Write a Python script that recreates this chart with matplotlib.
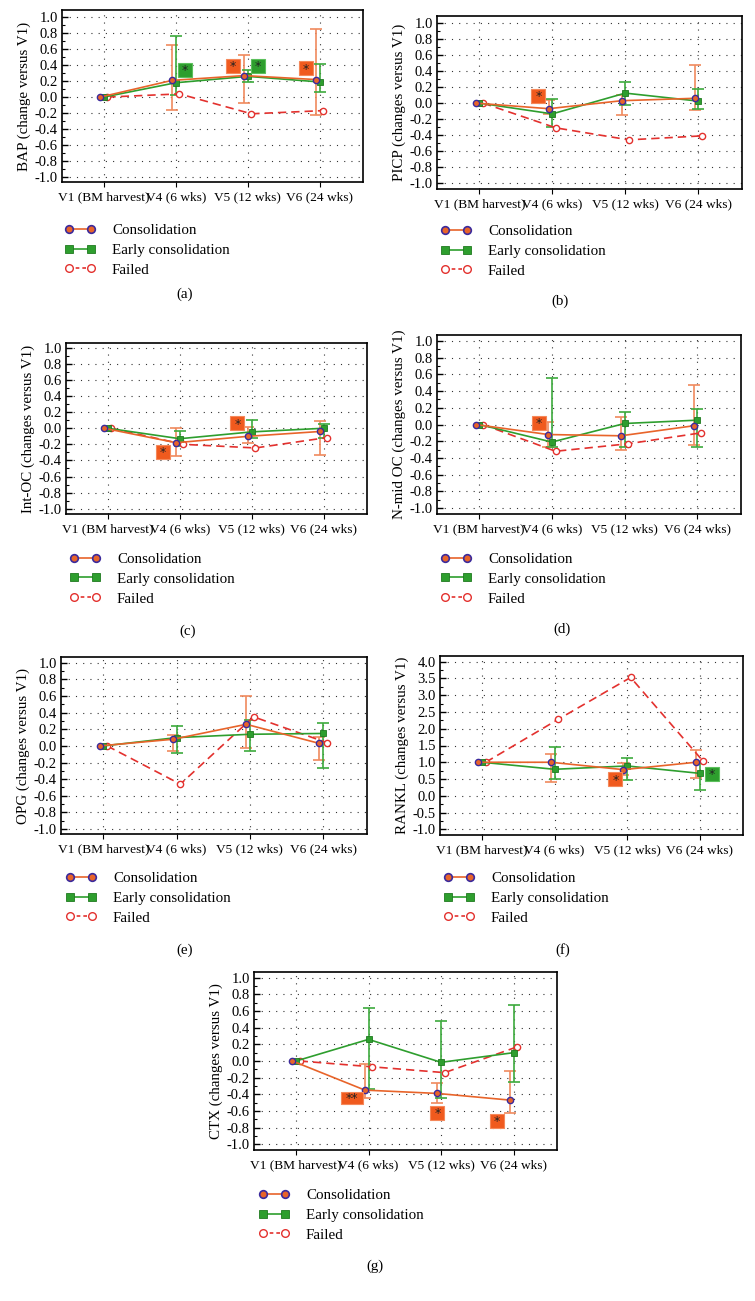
import numpy as np
import matplotlib
matplotlib.use("Agg")
import matplotlib.pyplot as plt
from matplotlib.lines import Line2D
from matplotlib.path import Path
from matplotlib.ticker import MultipleLocator, FormatStrFormatter

plt.rcParams['font.family'] = ['Liberation Serif', 'DejaVu Serif']
plt.rcParams['axes.unicode_minus'] = False

nan = np.nan
categories = ["V1 (BM harvest)", "V4 (6 wks)", "V5 (12 wks)", "V6 (24 wks)"]
series_names = ["Consolidation", "Early consolidation", "Failed"]

# ---- (a) BAP ----
bap_cons = [0, 0.21, 0.27, 0.22]
bap_cons_hi = [nan, 0.66, 0.53, 0.85]
bap_cons_lo = [nan, -0.16, -0.07, -0.22]
bap_early = [0, 0.18, 0.26, 0.19]
bap_early_hi = [nan, 0.77, 0.34, 0.42]
bap_early_lo = [nan, 0.03, 0.19, 0.06]
bap_failed = [0, 0.04, -0.21, -0.17]
bap_ann_x = [1.13, 1.79, 2.14, 2.81]
bap_ann_y = [0.34, 0.39, 0.39, 0.36]
bap_ann_txt = ["*", "*", "*", "*"]
bap_ann_grp = ["early", "cons", "early", "cons"]

# ---- (b) PICP ----
picp_cons = [0, -0.07, 0.03, 0.06]
picp_cons_hi = [nan, 0.04, 0.10, 0.48]
picp_cons_lo = [nan, -0.14, -0.15, -0.09]
picp_early = [0, -0.135, 0.125, 0.025]
picp_early_hi = [nan, 0.05, 0.26, 0.18]
picp_early_lo = [nan, -0.30, -0.02, -0.07]
picp_failed = [0, -0.31, -0.46, -0.41]
picp_ann_x = [0.81]
picp_ann_y = [0.09]
picp_ann_txt = ["*"]
picp_ann_grp = ["cons"]

# ---- (c) Int-OC ----
intoc_cons = [0, -0.18, -0.10, -0.04]
intoc_cons_hi = [nan, 0.0, 0.01, 0.09]
intoc_cons_lo = [nan, -0.35, -0.18, -0.33]
intoc_early = [0, -0.13, -0.045, 0.0]
intoc_early_hi = [nan, -0.04, 0.10, 0.05]
intoc_early_lo = [nan, -0.22, -0.12, -0.12]
intoc_failed = [0, -0.20, -0.245, -0.115]
intoc_ann_x = [0.77, 1.80]
intoc_ann_y = [-0.29, 0.06]
intoc_ann_txt = ["*", "*"]
intoc_ann_grp = ["cons", "cons"]

# ---- (d) N-mid OC ----
nmid_cons = [0, -0.12, -0.135, -0.015]
nmid_cons_hi = [nan, 0.035, 0.085, 0.47]
nmid_cons_lo = [nan, -0.27, -0.30, -0.24]
nmid_early = [0, -0.21, 0.012, 0.052]
nmid_early_hi = [nan, 0.55, 0.15, 0.19]
nmid_early_lo = [nan, -0.27, -0.27, -0.27]
nmid_failed = [0, -0.32, -0.23, -0.10]
nmid_ann_x = [0.82]
nmid_ann_y = [0.02]
nmid_ann_txt = ["*"]
nmid_ann_grp = ["cons"]

# ---- (e) OPG ----
opg_cons = [0, 0.08, 0.26, 0.03]
opg_cons_hi = [nan, 0.13, 0.60, 0.11]
opg_cons_lo = [nan, -0.06, -0.02, -0.17]
opg_early = [0, 0.10, 0.14, 0.15]
opg_early_hi = [nan, 0.24, 0.31, 0.27]
opg_early_lo = [nan, -0.08, -0.06, -0.27]
opg_failed = [0, -0.46, 0.35, 0.04]
opg_ann_x, opg_ann_y, opg_ann_txt, opg_ann_grp = [], [], [], []

# ---- (f) RANKL ----
rankl_cons = [1.0, 1.0, 0.78, 1.0]
rankl_cons_hi = [nan, 1.26, 0.97, 1.38]
rankl_cons_lo = [nan, 0.40, 0.62, 0.53]
rankl_early = [1.0, 0.79, 0.89, 0.67]
rankl_early_hi = [nan, 1.46, 1.12, 0.97]
rankl_early_lo = [nan, 0.49, 0.47, 0.16]
rankl_failed = [1.0, 2.28, 3.53, 1.03]
rankl_ann_x = [1.84, 3.17]
rankl_ann_y = [0.49, 0.65]
rankl_ann_txt = ["*", "*"]
rankl_ann_grp = ["cons", "early"]

# ---- (g) CTX ----
ctx_cons = [0, -0.35, -0.39, -0.47]
ctx_cons_hi = [nan, -0.035, -0.27, -0.12]
ctx_cons_lo = [nan, -0.45, -0.51, -0.63]
ctx_early = [0, 0.26, -0.016, 0.10]
ctx_early_hi = [nan, 0.64, 0.48, 0.67]
ctx_early_lo = [nan, -0.34, -0.45, -0.25]
ctx_failed = [0, -0.07, -0.14, 0.17]
ctx_ann_x = [0.77, 1.95, 2.77]
ctx_ann_y = [-0.44, -0.62, -0.72]
ctx_ann_txt = ["**", "*", "*"]
ctx_ann_grp = ["cons", "cons", "cons"]

ylabels = ["BAP (change versus V1)", "PICP (changes versus V1)",
           "Int-OC (changes versus V1)", "N-mid OC (changes versus V1)",
           "OPG (changes versus V1)", "RANKL (changes versus V1)",
           "CTX (changes versus V1)"]
captions = ["(a)", "(b)", "(c)", "(d)", "(e)", "(f)", "(g)"]

# colours
C_CONS = "#E8642A"
C_CONS_EDGE = "#3B2A9C"
C_CONS_ERR = "#F08A5E"
C_EARLY = "#2E9E2E"
C_EARLY_EDGE = "#1F7A1F"
C_EARLY_ERR = "#3DAA3D"
C_FAIL = "#E3312E"
C_BOX = {"cons": "#F05A1E", "early": "#2E9E2E"}
C_BOX_EDGE = {"cons": "#F5885A", "early": "#5CC05C"}

WIDE_BOX = Path([(-1, -0.55), (1, -0.55), (1, 0.55), (-1, 0.55), (-1, -0.55)],
                [Path.MOVETO, Path.LINETO, Path.LINETO, Path.LINETO, Path.CLOSEPOLY])

W, H = 755, 1301
fig = plt.figure(figsize=(W / 100, H / 100), dpi=100)

layouts = [
    dict(box=(62, 10, 363, 182), ylim=(-1.067, 1.094), ymaj=0.2, leg=(64, 250), cap=(185, 294)),
    dict(box=(437, 16, 742, 189), ylim=(-1.075, 1.09), ymaj=0.2, leg=(440, 251), cap=(560, 301)),
    dict(box=(66, 343, 367, 514), ylim=(-1.066, 1.06), ymaj=0.2, leg=(69, 579), cap=(188, 631)),
    dict(box=(437, 335, 741, 514), ylim=(-1.07, 1.07), ymaj=0.2, leg=(440, 579), cap=(562, 629)),
    dict(box=(61, 657, 367, 834), ylim=(-1.06, 1.07), ymaj=0.2, leg=(65, 898), cap=(185, 950)),
    dict(box=(440, 656, 743, 835), ylim=(-1.17, 4.17), ymaj=0.5, leg=(443, 898), cap=(563, 950)),
    dict(box=(254, 972, 557, 1150), ylim=(-1.07, 1.07), ymaj=0.2, leg=(258, 1215), cap=(375, 1266)),
]

panels = [
    (bap_cons, bap_cons_lo, bap_cons_hi, bap_early, bap_early_lo, bap_early_hi, bap_failed,
     bap_ann_x, bap_ann_y, bap_ann_txt, bap_ann_grp),
    (picp_cons, picp_cons_lo, picp_cons_hi, picp_early, picp_early_lo, picp_early_hi, picp_failed,
     picp_ann_x, picp_ann_y, picp_ann_txt, picp_ann_grp),
    (intoc_cons, intoc_cons_lo, intoc_cons_hi, intoc_early, intoc_early_lo, intoc_early_hi, intoc_failed,
     intoc_ann_x, intoc_ann_y, intoc_ann_txt, intoc_ann_grp),
    (nmid_cons, nmid_cons_lo, nmid_cons_hi, nmid_early, nmid_early_lo, nmid_early_hi, nmid_failed,
     nmid_ann_x, nmid_ann_y, nmid_ann_txt, nmid_ann_grp),
    (opg_cons, opg_cons_lo, opg_cons_hi, opg_early, opg_early_lo, opg_early_hi, opg_failed,
     opg_ann_x, opg_ann_y, opg_ann_txt, opg_ann_grp),
    (rankl_cons, rankl_cons_lo, rankl_cons_hi, rankl_early, rankl_early_lo, rankl_early_hi, rankl_failed,
     rankl_ann_x, rankl_ann_y, rankl_ann_txt, rankl_ann_grp),
    (ctx_cons, ctx_cons_lo, ctx_cons_hi, ctx_early, ctx_early_lo, ctx_early_hi, ctx_failed,
     ctx_ann_x, ctx_ann_y, ctx_ann_txt, ctx_ann_grp),
]

x = np.arange(len(categories))
off_cons, off_early, off_fail = -0.05, 0.0, 0.05
YFS = 10.5
XFS = 9.6
LFS = 10.8

for i, (lay, data) in enumerate(zip(layouts, panels)):
    (cons, cons_lo, cons_hi, early, early_lo, early_hi, failed,
     ann_x, ann_y, ann_txt, ann_grp) = data
    l, t, r, b = lay["box"]
    ax = fig.add_axes([l / W, 1 - b / H, (r - l) / W, (b - t) / H])

    cons = np.array(cons, float); early = np.array(early, float)
    cl = np.array(cons_lo, float); ch = np.array(cons_hi, float)
    el = np.array(early_lo, float); eh = np.array(early_hi, float)
    m = ~np.isnan(ch)
    ax.errorbar(x[m] + off_cons, cons[m], yerr=[cons[m] - cl[m], ch[m] - cons[m]],
                fmt='none', ecolor=C_CONS_ERR, elinewidth=1.2, capsize=4, capthick=1.2, zorder=2)
    m = ~np.isnan(eh)
    ax.errorbar(x[m] + off_early, early[m], yerr=[early[m] - el[m], eh[m] - early[m]],
                fmt='none', ecolor=C_EARLY_ERR, elinewidth=1.2, capsize=4, capthick=1.2, zorder=2)

    ax.plot(x + off_fail, failed, color=C_FAIL, lw=1.2, ls=(0, (5, 3)), marker='o', ms=4.5,
            mfc='white', mec=C_FAIL, mew=1.0, zorder=3)
    ax.plot(x + off_early, early, color=C_EARLY, lw=1.2, marker='s', ms=4.8,
            mfc=C_EARLY, mec=C_EARLY_EDGE, mew=0.6, zorder=4)
    ax.plot(x + off_cons, cons, color=C_CONS, lw=1.2, marker='o', ms=4.5,
            mfc=C_CONS, mec=C_CONS_EDGE, mew=1.0, zorder=5)

    for ax_, ay_, at_, ag_ in zip(ann_x, ann_y, ann_txt, ann_grp):
        if len(at_) > 1:
            ax.plot([ax_], [ay_], marker=WIDE_BOX, ms=16, mfc=C_BOX[ag_], mec=C_BOX_EDGE[ag_],
                    mew=0.8, ls='none', zorder=6)
        else:
            ax.plot([ax_], [ay_], marker='s', ms=10, mfc=C_BOX[ag_], mec=C_BOX_EDGE[ag_],
                    mew=0.8, ls='none', zorder=6)
        ax.text(ax_, ay_ - 0.01 * (lay["ylim"][1] - lay["ylim"][0]) / 2.15, at_,
                ha='center', va='center', fontsize=9, color='#222222',
                family='DejaVu Sans', zorder=7)

    ax.set_xlim(-0.58, 3.6)
    ax.set_ylim(*lay["ylim"])
    ax.set_xticks(x)
    ax.set_xticklabels(categories, fontsize=XFS)
    ymaj = lay["ymaj"]
    ax.yaxis.set_major_locator(MultipleLocator(ymaj))
    ax.yaxis.set_minor_locator(MultipleLocator(ymaj / 2))
    ax.yaxis.set_major_formatter(FormatStrFormatter('%.1f'))
    ax.tick_params(axis='y', which='major', direction='in', length=4, width=1.0, labelsize=YFS, pad=3)
    ax.tick_params(axis='y', which='minor', direction='in', length=2.5, width=0.8)
    ax.tick_params(axis='x', which='major', direction='out', length=3.5, width=0.8, labelsize=XFS, pad=3)
    for sp in ax.spines.values():
        sp.set_linewidth(1.2)
        sp.set_color('black')
    ax.grid(True, which='major', axis='both', color='#333333', lw=0.8, ls=(0, (1, 5.5)))
    ax.set_axisbelow(True)
    ax.set_ylabel(ylabels[i], fontsize=10.8, labelpad=3)

    handles = [
        Line2D([], [], color=C_CONS, lw=1.2, marker='o', ms=5.5, mfc=C_CONS, mec=C_CONS_EDGE, mew=1.2),
        Line2D([], [], color=C_EARLY, lw=1.2, marker='s', ms=5.5, mfc=C_EARLY, mec=C_EARLY_EDGE, mew=0.6),
        Line2D([], [], color=C_FAIL, lw=1.2, ls=(0, (2.2, 1.8)), marker='o', ms=5.5, mfc='white', mec=C_FAIL, mew=1.0),
    ]
    lx, ly = lay["leg"]
    ax.legend(handles, series_names, loc='center left', bbox_to_anchor=(lx / W, 1 - ly / H),
              bbox_transform=fig.transFigure, frameon=False, numpoints=2, fontsize=LFS,
              handlelength=2.1, handletextpad=1.1, labelspacing=0.42, borderpad=0, borderaxespad=0)
    cx, cy = lay["cap"]
    fig.text(cx / W, 1 - cy / H, captions[i], ha='center', va='center', fontsize=10.8)

fig.savefig("out.png", dpi=100)
